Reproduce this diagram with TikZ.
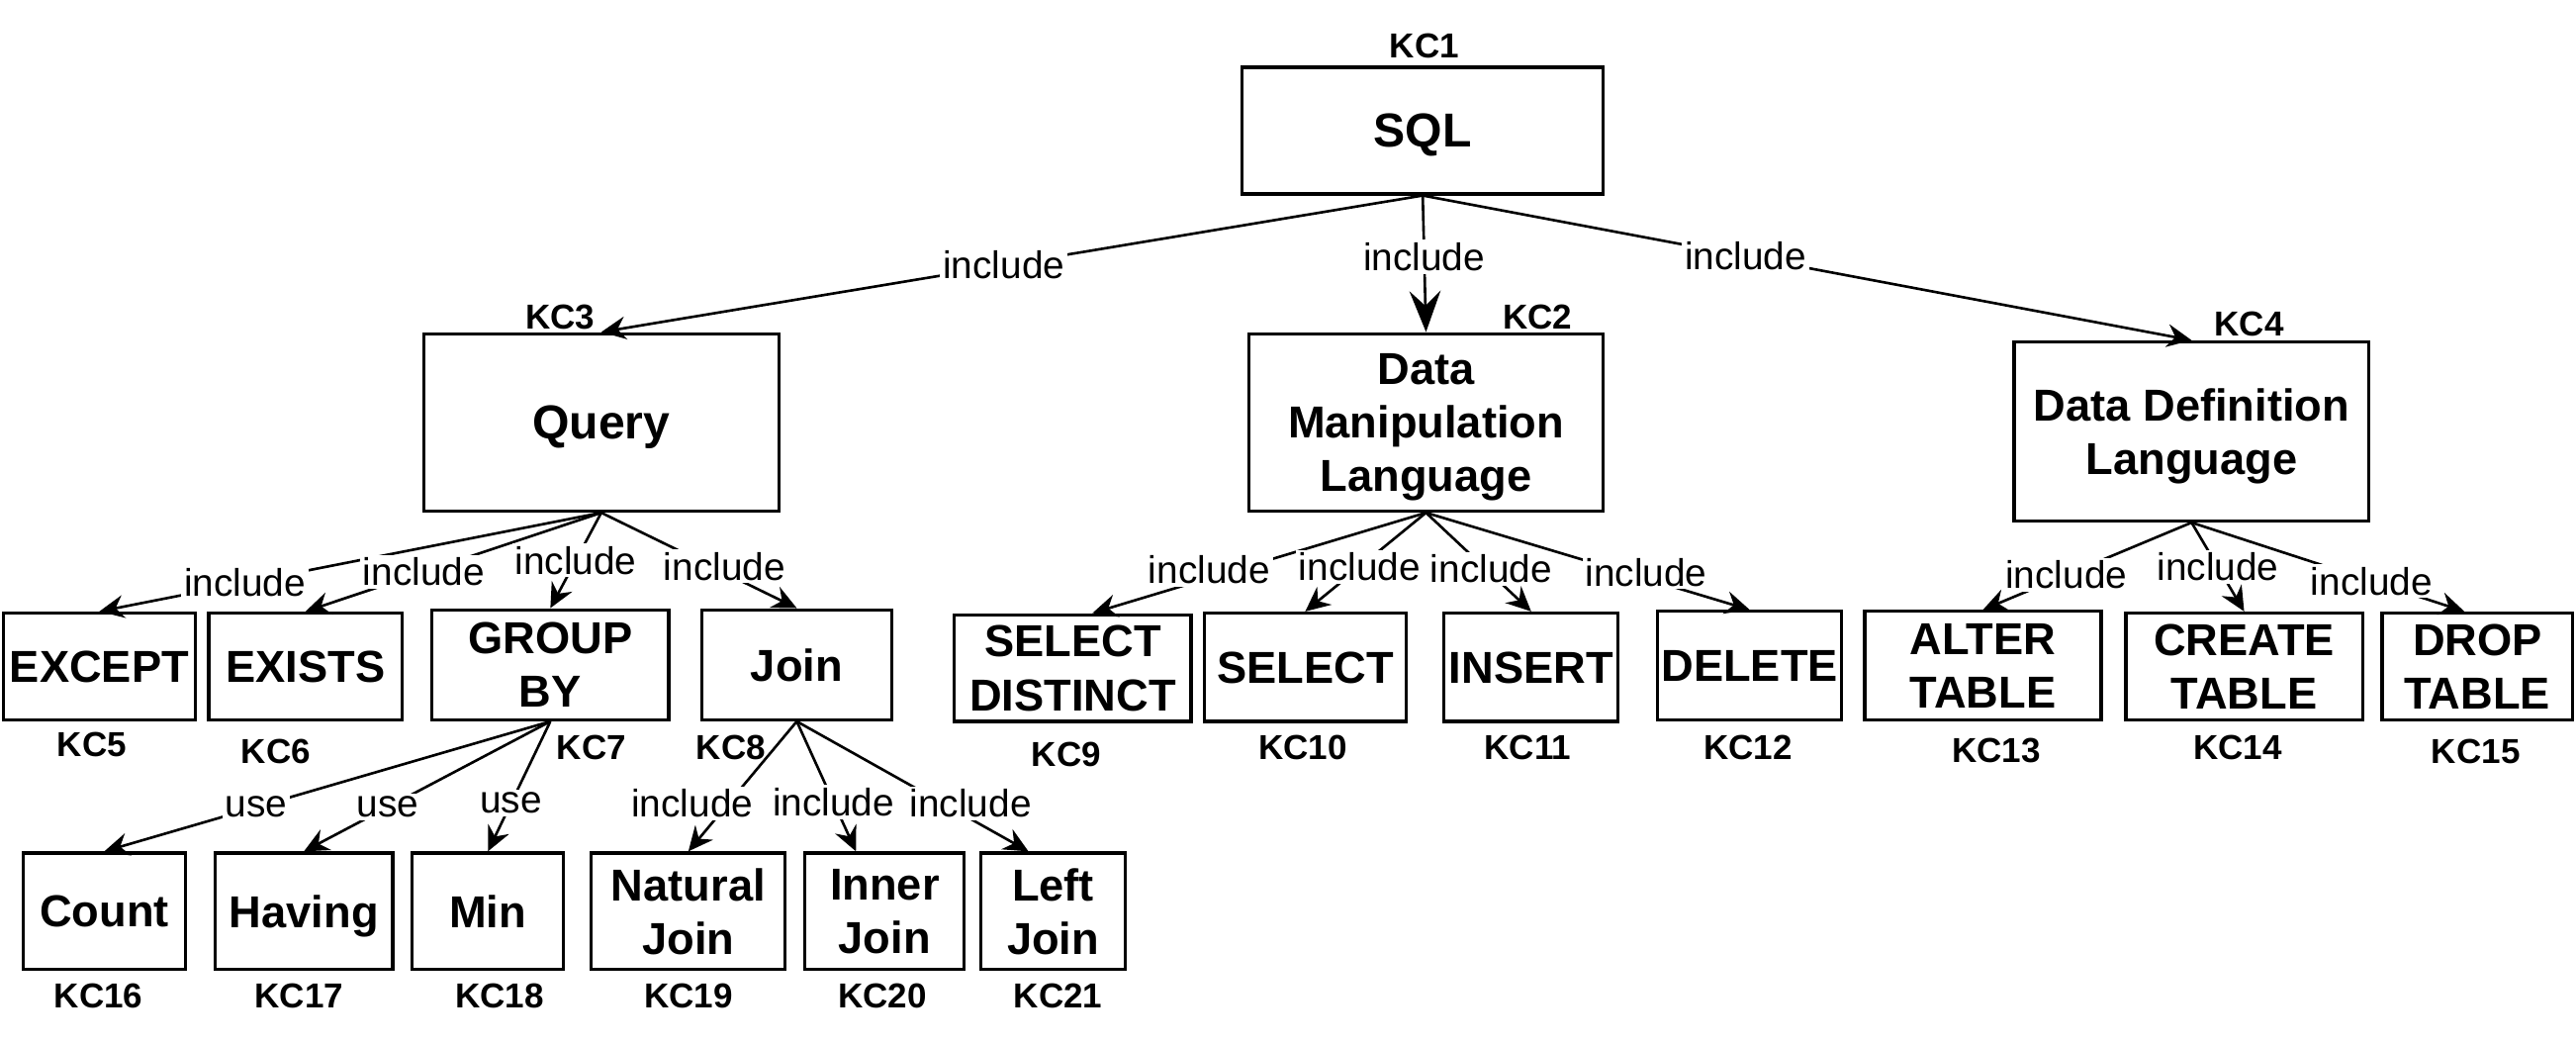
\documentclass[tikz,border=0pt]{standalone}
\usepackage{fontspec}
\setmainfont{Liberation Sans}
\usetikzlibrary{arrows.meta}
\tikzset{
  kc/.style={draw, line width=1.1pt, align=center, inner sep=1pt, text depth=-1.5pt, font=\bfseries\fontsize{15.5}{18.6}\selectfont},
  kcbig/.style={kc, text depth=-3pt, font=\bfseries\fontsize{16.5}{19}\selectfont},
  kcid/.style={inner sep=0pt, font=\bfseries\fontsize{12}{14}\selectfont},
  rel/.style={fill=white, inner sep=1pt, font=\fontsize{13.3}{15}\selectfont},
  arr/.style={line width=0.9pt, -{Stealth[length=3mm, width=2.8mm, inset=1mm]}},
  bigarr/.style={-{Stealth[length=5mm, width=3.8mm, inset=1.8mm]}}
}
\begin{document}
\begin{tikzpicture}[x=0.2mm, y=-0.2mm]
      \useasboundingbox (0,0) rectangle (1568,636);
      \node[kcbig, minimum width=44mm, minimum height=15.4mm] (sql) at (866,79.5) {SQL};
      \node[kcbig, text depth=-1.5pt, minimum width=43.2mm, minimum height=21.6mm] (query) at (366,257) {Query};
      \node[kc, minimum width=43.2mm, minimum height=21.6mm] (dml) at (868,257) {Data\\Manipulation\\Language};
      \node[kc, minimum width=43.2mm, minimum height=21.8mm] (ddl) at (1334,262.5) {Data Definition\\Language};
      \node[kc, minimum width=23.4mm, minimum height=13mm] (except) at (60.5,405.5) {EXCEPT};
      \node[kc, minimum width=23.6mm, minimum height=13mm] (exists) at (186,405.5) {EXISTS};
      \node[kc, minimum width=28.8mm, minimum height=13.4mm] (groupby) at (335,404.5) {GROUP\\BY};
      \node[kc, minimum width=23.2mm, minimum height=13.4mm] (join) at (485,404.5) {Join};
      \node[kc, minimum width=28.8mm, minimum height=13mm] (distinct) at (653,406.5) {SELECT\\DISTINCT};
      \node[kc, minimum width=24.6mm, minimum height=13.2mm] (select) at (794.5,406) {SELECT};
      \node[kc, minimum width=21.2mm, minimum height=13.2mm] (insert) at (932,406) {INSERT};
      \node[kc, minimum width=22.4mm, minimum height=13.2mm] (delete) at (1065,405) {DELETE};
      \node[kc, minimum width=28.8mm, minimum height=13.2mm] (alter) at (1207,405) {ALTER\\TABLE};
      \node[kc, minimum width=28.8mm, minimum height=13mm] (create) at (1366,405.5) {CREATE\\TABLE};
      \node[kc, minimum width=23.2mm, minimum height=13mm] (drop) at (1508,405.5) {DROP\\TABLE};
      \node[kc, minimum width=19.8mm, minimum height=14.2mm] (count) at (63.5,554.5) {Count};
      \node[kc, minimum width=21.6mm, minimum height=14.2mm] (having) at (185,554.5) {Having};
      \node[kc, minimum width=18.4mm, minimum height=14.2mm] (min) at (297,554.5) {Min};
      \node[kc, minimum width=23.6mm, minimum height=14.2mm] (natural) at (419,554.5) {Natural\\Join};
      \node[kc, minimum width=19.4mm, minimum height=14.2mm] (inner) at (538.5,554.5) {Inner\\Join};
      \node[kc, minimum width=17.6mm, minimum height=14.2mm] (leftjoin) at (641,554.5) {Left\\Join};
      \node[kcid] (kc1) at (867,28) {KC1};
      \node[kcid] (kc2) at (936,193) {KC2};
      \node[kcid] (kc3) at (341,193) {KC3};
      \node[kcid] (kc4) at (1369,197) {KC4};
      \node[kcid] (kc5) at (56,453) {KC5};
      \node[kcid] (kc6) at (168,457) {KC6};
      \node[kcid] (kc7) at (360,455) {KC7};
      \node[kcid] (kc8) at (445,455) {KC8};
      \node[kcid] (kc9) at (649,459) {KC9};
      \node[kcid] (kc10) at (793,455) {KC10};
      \node[kcid] (kc11) at (930,455) {KC11};
      \node[kcid] (kc12) at (1064,455) {KC12};
      \node[kcid] (kc13) at (1215,457) {KC13};
      \node[kcid] (kc14) at (1362,455) {KC14};
      \node[kcid] (kc15) at (1507,457) {KC15};
      \node[kcid] (kc16) at (60,606) {KC16};
      \node[kcid] (kc17) at (182,606) {KC17};
      \node[kcid] (kc18) at (304,606) {KC18};
      \node[kcid] (kc19) at (419,606) {KC19};
      \node[kcid] (kc20) at (537,606) {KC20};
      \node[kcid] (kc21) at (644,606) {KC21};
      \begin{scope}[arr]
        \draw (sql.south) -- (query.north) node[rel, pos=0.51] {include};
        \draw[bigarr] (sql.south) -- (dml.north) node[rel, pos=0.45] {include};
        \draw (sql.south) -- (ddl.north) node[rel, pos=0.42] {include};
        \draw (query.south) -- (except.north) node[rel, pos=0.71] {include};
        \draw (query.south) -- (exists.north) node[rel, pos=0.6] {include};
        \draw (query.south) -- (groupby.north) node[rel, pos=0.5] {include};
        \draw (query.south) -- (join.north) node[rel, pos=0.63, yshift=0.8mm] {include};
        \draw (dml.south) -- ([xshift=2.4mm]distinct.north) node[rel, pos=0.65, yshift=1mm] {include};
        \draw (dml.south) -- (select.north) node[rel, pos=0.55] {include};
        \draw (dml.south) -- (insert.north) node[rel, pos=0.62, yshift=0.6mm] {include};
        \draw (dml.south) -- (delete.north) node[rel, pos=0.68, yshift=0.8mm] {include};
        \draw (ddl.south) -- (alter.north) node[rel, pos=0.6] {include};
        \draw (ddl.south) -- (create.north) node[rel, pos=0.5] {include};
        \draw (ddl.south) -- ([xshift=-1.6mm]drop.north) node[rel, pos=0.66] {include};
        \draw (groupby.south) -- (count.north) node[rel, pos=0.66] {use};
        \draw (groupby.south) -- (having.north) node[rel, pos=0.66] {use};
        \draw (groupby.south) -- (min.north) node[rel, pos=0.63] {use};
        \draw (join.south) -- (natural.north) node[rel, pos=0.63, xshift=-4.4mm] {include};
        \draw (join.south) -- ([xshift=-3.5mm]inner.north) node[rel, pos=0.62] {include};
        \draw (join.south) -- ([xshift=-3mm]leftjoin.north) node[rel, pos=0.63, xshift=3.4mm] {include};
      \end{scope}
    \end{tikzpicture}
\end{document}
